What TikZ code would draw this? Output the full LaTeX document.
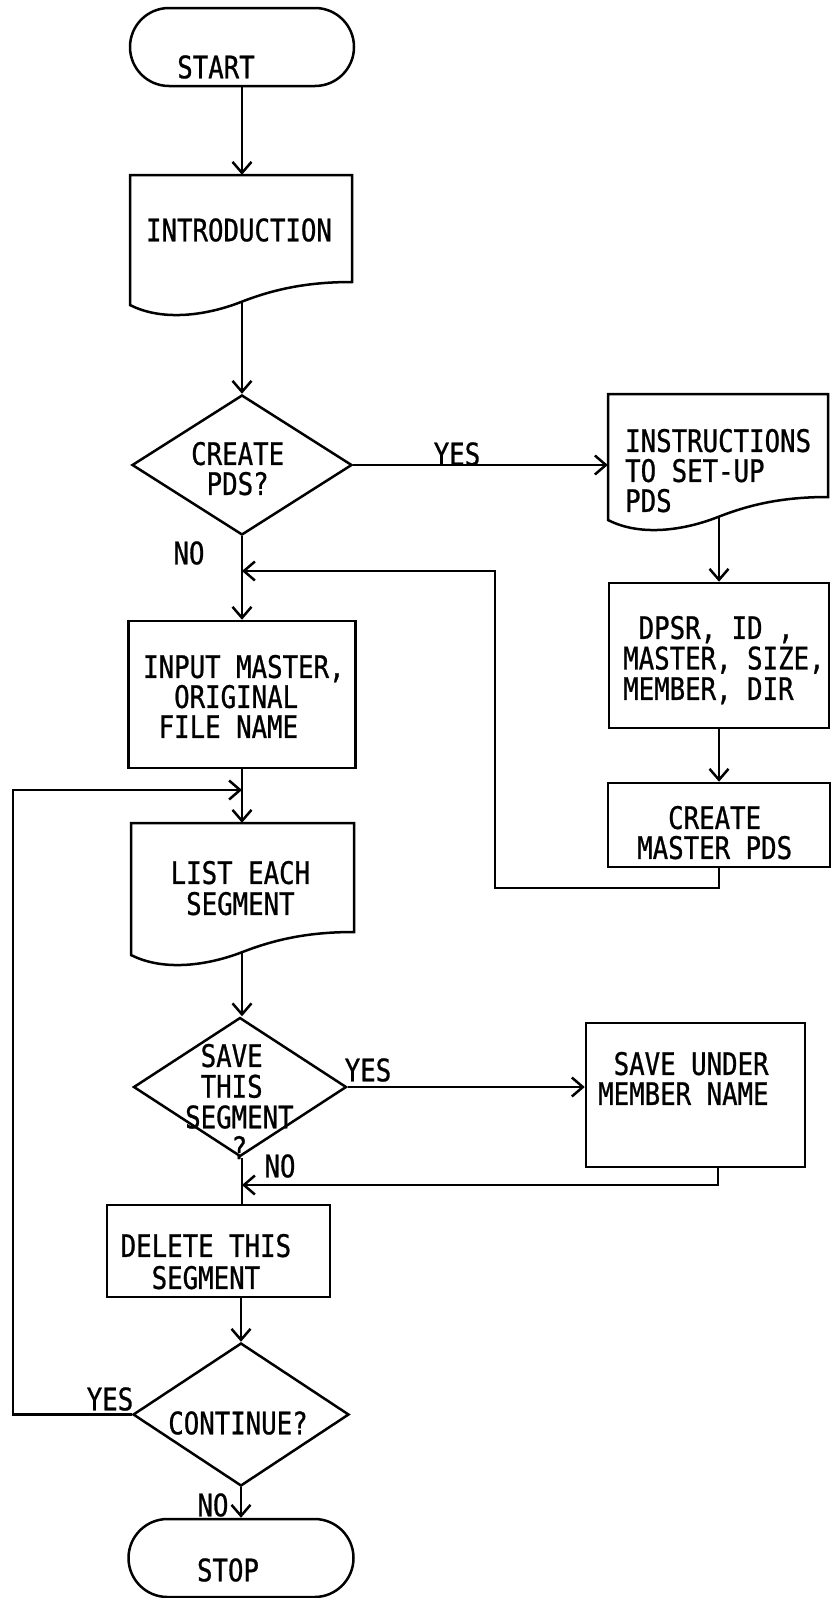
\documentclass[tikz,border=0pt]{standalone}
\usepackage{fontspec}
\newfontfamily\chartfont[FakeStretch=0.83,FakeBold=0.8]{DejaVu Sans Mono}
\usetikzlibrary{arrows.meta,shapes.geometric}
\newcommand\ind{\phantom{M}}
\tikzset{
  ln/.style={line width=2.5pt},
  arr/.style={ln,-{Straight Barb[length=11pt,width=19pt,line width=2.5pt]}},
  box/.style={draw,ln,rectangle,inner sep=0pt},
  ghost/.style={rectangle,inner sep=0pt},
  term/.style={draw,ln,rectangle,rounded corners=39pt,inner sep=0pt},
  dec/.style={draw,ln,diamond,inner sep=0pt},
  txt/.style={font=\chartfont\fontsize{31}{30}\selectfont,inner sep=0pt,align=left,anchor=north west},
  lbl/.style={font=\chartfont\fontsize{31}{30}\selectfont,inner sep=0pt,anchor=center},
}
\begin{document}
\begin{tikzpicture}[x=1pt,y=-1pt]
\useasboundingbox (0,0) rectangle (830,1598);

% ---------- shapes ----------
\node[term,minimum width=224pt,minimum height=78pt] (start) at (242,47) {};
% INTRODUCTION document
\node[ghost,minimum width=222pt,minimum height=107pt] (intro) at (241,228.5) {};
\draw[ln] (130,305) -- (130,175) -- (352,175) -- (352,282)
  .. controls (307.6,282) and (274.3,289) .. (241,302)
  .. controls (207.7,315) and (163.3,322) .. (130,305) -- cycle;
\coordinate (introB) at (242,302);

\node[dec,minimum width=220pt,minimum height=140pt] (cpds) at (242,465) {};

% INSTRUCTIONS document
\node[ghost,minimum width=220pt,minimum height=103pt] (instr) at (718,445.5) {};
\draw[ln] (608,520) -- (608,394) -- (828,394) -- (828,497)
  .. controls (784,497) and (751,504) .. (718,517)
  .. controls (685,530) and (641,537) .. (608,520) -- cycle;
\coordinate (instrB) at (719,516);

\node[box,minimum width=220pt,minimum height=145pt] (dpsr) at (719,655.5) {};
\node[box,minimum width=222pt,minimum height=84pt] (cmast) at (719,825) {};

\node[box,minimum width=227pt,minimum height=147pt] (input) at (242,694.5) {};

% LIST EACH SEGMENT document
\node[ghost,minimum width=223pt,minimum height=109pt] (list) at (242,877.5) {};
\draw[ln] (131,955) -- (131,823) -- (354,823) -- (354,932)
  .. controls (309.4,932) and (276,939) .. (242.5,952)
  .. controls (209,965) and (164.5,972) .. (131,955) -- cycle;
\coordinate (listB) at (242,952);

\node[dec,minimum width=213pt,minimum height=139pt] (save) at (240,1087) {};
\node[box,minimum width=219pt,minimum height=144pt] (su) at (695.5,1095) {};
\node[box,minimum width=223pt,minimum height=92pt] (del) at (218.5,1251) {};
\node[dec,minimum width=216pt,minimum height=143pt] (cont) at (241,1414.5) {};
\node[term,minimum width=225pt,minimum height=78pt] (stop) at (241,1558) {};

% ---------- texts ----------
\node[lbl] (tstart) at (216,67) {START};
\node[lbl] (tintro) at (239,230) {INTRODUCTION};
\node[txt] (tcpds) at (191,441.7) {CREATE\\\ind PDS?};
\node[txt] (tinstr) at (625,428.7) {INSTRUCTIONS\\TO SET-UP\\PDS};
\node[txt,font=\chartfont\fontsize{31}{30.5}\selectfont] (tdpsr) at (623,615.7) {\ind DPSR, ID ,\\MASTER, SIZE,\\MEMBER, DIR};
\node[txt] (tcmast) at (637,805.7) {\ind\ind CREATE\\MASTER PDS};
\node[txt] (tinput) at (143,654.7) {INPUT MASTER,\\\ind\ind ORIGINAL\\\ind FILE NAME};
\node[txt,font=\chartfont\fontsize{31}{31}\selectfont] (tlist) at (170.5,860.7) {LIST EACH\\\ind SEGMENT};
\node[txt,font=\chartfont\fontsize{31}{30.7}\selectfont] (tsave) at (185,1043.7) {\ind SAVE\\\ind THIS\\SEGMENT\\\ind\ind\ind ?};
\node[txt] (tsu) at (598,1051.7) {\ind SAVE UNDER\\MEMBER NAME};
\node[txt,font=\chartfont\fontsize{31}{32}\selectfont] (tdel) at (120.5,1233.7) {DELETE THIS\\\ind\ind SEGMENT};
\node[lbl] (tcont) at (238,1423) {CONTINUE?};
\node[lbl] (tstop) at (228,1570) {STOP};

\node[lbl] (yes1) at (457,454) {YES};
\node[lbl] (no1) at (189,553) {NO};
\node[lbl] (yes2) at (368,1070) {YES};
\node[lbl] (no2) at (280,1166) {NO};
\node[lbl] (yes3) at (110,1399) {YES};
\node[lbl] (no3) at (213,1505) {NO};

% ---------- connectors ----------
\coordinate (j1) at (242,571);
\coordinate (fb) at (495,888);
\coordinate (j2) at (242,790);
\coordinate (lp) at (13,790);
\coordinate (j3) at (242,1185);
\coordinate (suB) at (718,1167);

\draw[arr] (start.south) -- (start.south |- intro.north);
\draw[arr] (introB) -- (introB |- cpds.north);
\draw[arr] (cpds.east) -- (cpds.east -| instr.west);
\draw[arr] (cpds.south) -- (cpds.south |- input.north);
\draw[arr] (instrB) -- (instrB |- dpsr.north);
\draw[arr] (dpsr.south) -- (cmast.north);
\draw[arr] (cmast.south) |- (fb) |- (j1);
\draw[arr] (input.south) -- (input.south |- list.north);
\draw[arr] (cont.west) -| (lp) -- (j2);
\draw[arr] (listB) -- (listB |- save.north);
\draw[arr] (save.east) -- (save.east -| su.west);
\draw[arr] (suB) |- (j3);
\draw[ln] (j3 |- save.south) -- (j3 |- del.north);
\draw[arr] (del.south -| cont.north) -- (cont.north);
\draw[arr] (cont.south) -- (cont.south |- stop.north);
\end{tikzpicture}
\end{document}
